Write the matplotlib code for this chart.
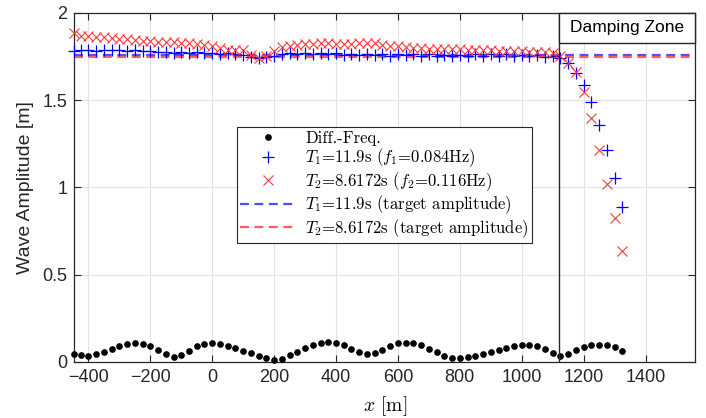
import numpy as np
import matplotlib
matplotlib.use('Agg')
import matplotlib.pyplot as plt
from matplotlib.patches import Rectangle

plt.rcParams['mathtext.fontset'] = 'cm'
plt.rcParams['font.family'] = ['Liberation Sans', 'DejaVu Sans']

# positions along the flume [m]
x = np.array([-445] + list(range(-425, 1326, 25)))

# difference-frequency amplitude [m]
amp_diff = [0.044, 0.040, 0.036, 0.046, 0.057, 0.074, 0.094, 0.103, 0.109, 0.105,
            0.092, 0.069, 0.046, 0.027, 0.042, 0.065, 0.092, 0.101, 0.107, 0.103,
            0.094, 0.082, 0.063, 0.050, 0.036, 0.021, 0.013, 0.019, 0.042, 0.059,
            0.078, 0.097, 0.107, 0.113, 0.107, 0.096, 0.074, 0.055, 0.046, 0.050,
            0.071, 0.094, 0.107, 0.111, 0.107, 0.097, 0.074, 0.057, 0.036, 0.021,
            0.021, 0.027, 0.036, 0.046, 0.055, 0.069, 0.082, 0.094, 0.099, 0.099,
            0.094, 0.076, 0.053, 0.034, 0.046, 0.069, 0.088, 0.096, 0.099, 0.097,
            0.084, 0.065]

# first component T1 = 11.9 s
amp_t1 = [1.780, 1.785, 1.790, 1.782, 1.788, 1.785, 1.790, 1.782, 1.786, 1.780,
          1.784, 1.776, 1.778, 1.768, 1.775, 1.770, 1.777, 1.768, 1.772, 1.765,
          1.770, 1.762, 1.758, 1.748, 1.742, 1.745, 1.752, 1.762, 1.768, 1.764,
          1.772, 1.766, 1.770, 1.763, 1.768, 1.760, 1.766, 1.758, 1.765, 1.757,
          1.764, 1.756, 1.763, 1.757, 1.762, 1.755, 1.762, 1.754, 1.760, 1.753,
          1.760, 1.755, 1.762, 1.755, 1.763, 1.756, 1.762, 1.754, 1.760, 1.752,
          1.758, 1.750, 1.752, 1.742, 1.715, 1.654, 1.587, 1.488, 1.358, 1.215,
          1.056, 0.890]

# second component T2 = 8.6172 s
amp_t2 = [1.884, 1.870, 1.866, 1.862, 1.860, 1.855, 1.851, 1.848, 1.845, 1.841,
          1.838, 1.836, 1.834, 1.832, 1.830, 1.828, 1.824, 1.817, 1.808, 1.798,
          1.790, 1.788, 1.790, 1.760, 1.740, 1.752, 1.782, 1.803, 1.812, 1.818,
          1.822, 1.823, 1.826, 1.825, 1.823, 1.822, 1.821, 1.825, 1.830, 1.826,
          1.818, 1.812, 1.808, 1.804, 1.800, 1.797, 1.796, 1.795, 1.793, 1.792,
          1.791, 1.790, 1.789, 1.788, 1.786, 1.784, 1.782, 1.781, 1.780, 1.779,
          1.778, 1.777, 1.772, 1.752, 1.715, 1.660, 1.546, 1.397, 1.215, 1.020,
          0.823, 0.638]

target_t1 = 1.76
target_t2 = 1.75
damping_start = 1120
x_range = (-445, 1560)

fig = plt.figure(figsize=(7.06, 4.18), dpi=100)
ax = fig.add_axes([0.1055, 0.134, 0.879, 0.835])

ax.plot(x, amp_diff, 'o', color='k', markersize=3.8, clip_on=False,
        label='Diff.-Freq.', zorder=3)
ax.plot(x, amp_t1, '+', color='#0000ff', markersize=8, mew=0.9, clip_on=False,
        label=r'$T_1$=11.9s ($f_1$=0.084Hz)', zorder=4)
ax.plot(x, amp_t2, 'x', color='#ff3838', markersize=6.5, mew=0.8, clip_on=False,
        label=r'$T_2$=8.6172s ($f_2$=0.116Hz)', zorder=4)
ax.plot(x_range, [target_t1, target_t1], '--', color='#4d4dff', lw=1.6,
        dashes=(4, 2.5), label=r'$T_1$=11.9s (target amplitude)', zorder=2)
ax.plot(x_range, [target_t2, target_t2], '--', color='#ff5c5c', lw=1.6,
        dashes=(4, 2.5), label=r'$T_2$=8.6172s (target amplitude)', zorder=2)

# damping zone marker
ax.axvline(damping_start, color='#262626', lw=1.0, zorder=5)
ax.add_patch(Rectangle((damping_start, 1.828), x_range[1] - damping_start, 0.172,
                       facecolor='white', edgecolor='#262626', lw=1.0, zorder=6,
                       clip_on=False))
ax.text((damping_start + x_range[1]) / 2, 1.914, 'Damping Zone', ha='center',
        va='center', fontsize=12.5, zorder=7)

ax.set_xlim(*x_range)
ax.set_ylim(0, 2)
ax.set_xticks(np.arange(-400, 1401, 200))
ax.set_yticks([0, 0.5, 1, 1.5, 2])
ax.set_yticklabels(['0', '0.5', '1', '1.5', '2'])
ax.grid(True, color='#e3e3e3', lw=0.8)
ax.set_axisbelow(True)
ax.tick_params(direction='in', top=True, right=True, labelsize=13,
               length=5, width=0.8, colors='#262626', pad=5)
for s in ax.spines.values():
    s.set_color('#262626')
    s.set_linewidth(0.9)

ax.set_ylabel('Wave Amplitude [m]', fontsize=14, color='#262626', labelpad=6)
ax.set_xlabel(r'$x$ [m]', fontsize=14, family='cmr10', labelpad=6)

leg = ax.legend(loc='upper left', bbox_to_anchor=(0.262, 0.673),
                prop={'family': 'cmr10', 'size': 12}, handlelength=3.3,
                fancybox=False, framealpha=1, edgecolor='#262626',
                borderpad=0.2, labelspacing=0.05, handletextpad=0.6,
                borderaxespad=0)
leg.get_frame().set_linewidth(0.8)

fig.savefig('out.png', dpi=100)
